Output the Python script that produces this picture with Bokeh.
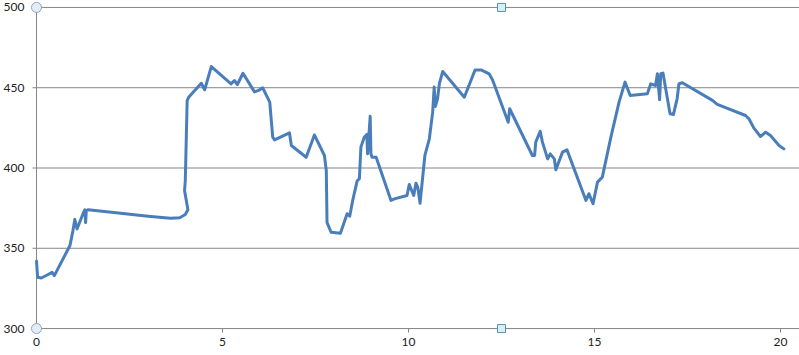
from bokeh.plotting import figure
from bokeh.models import Range1d, FixedTicker
from bokeh.embed import file_html
from bokeh.resources import INLINE

# ---- data ----
xs = [0.0, 0.03, 0.13, 0.3, 0.42, 0.48, 0.9, 0.98, 1.03, 1.09, 1.25, 1.3, 1.32, 1.34, 1.39,
      2.2, 3.0, 3.6, 3.85, 4.0, 4.07, 4.04, 3.98, 4.0, 4.05, 4.09, 4.43, 4.52, 4.7, 5.23,
      5.32, 5.4, 5.55, 5.86, 5.97, 6.08, 6.27, 6.35, 6.4, 6.8, 6.85, 7.25, 7.47, 7.74, 7.79,
      7.81, 7.92, 8.17, 8.35, 8.42, 8.5, 8.62, 8.68, 8.72, 8.81, 8.88, 8.9, 8.97, 8.99, 9.02,
      9.13, 9.53, 9.62, 9.96, 10.02, 10.14, 10.2, 10.25, 10.31, 10.44, 10.56, 10.65, 10.69,
      10.72, 10.78, 10.83, 10.92, 11.5, 11.79, 11.95, 12.17, 12.26, 12.68, 12.72, 13.33,
      13.39, 13.42, 13.54, 13.6, 13.74, 13.81, 13.92, 13.96, 14.14, 14.26, 14.77, 14.85,
      14.96, 15.08, 15.21, 15.44, 15.66, 15.82, 15.96, 16.42, 16.51, 16.64, 16.69, 16.75,
      16.78, 16.84, 17.03, 17.12, 17.22, 17.27, 17.36, 18.17, 18.3, 19.06, 19.15, 19.28,
      19.46, 19.6, 19.73, 19.96, 20.09]
ys = [342, 332, 331.5, 333.5, 335, 333, 351.7, 361, 368, 362, 371.5, 374, 366, 373.5, 374,
      372, 370, 368.7, 369, 371, 374, 378, 386, 392, 442, 444, 452.8, 448.7, 463.2, 452.4,
      454.5, 452, 459, 447.4, 448.3, 450, 441, 419.2, 417.5, 421.9, 414, 406.7, 420.6, 407.8, 398.4,
      366, 360, 359.4, 371.5, 370, 379.8, 392, 393.3, 413, 419.2, 420.9, 408.8, 432.2, 408.8, 406.7,
      406.7, 379.8, 380.8, 382.9, 389.7, 382.9, 390.5, 388, 378, 407.8, 418.2, 434.8, 450.4,
      438.3, 443.1, 452.5, 460.1, 444.1, 461.1, 461.1, 458.6, 454.8, 428.5, 436.9, 407.8,
      407.8, 416.1, 422.9, 416.1, 405.7, 408.8, 405.7, 398.9, 409.9, 411.3, 379.8, 384,
      377.7, 391.2, 394.3, 419.2, 441, 453.5, 445.2, 446.2, 452.4, 451.4, 458.7, 442.5,
      458.7, 459.1, 433.8, 433.3, 443.1, 452.5, 453.1, 442.1, 439.6, 432.7, 430.7, 425,
      419.6, 422.3, 420.2, 414, 411.9]

x_ticks = [0, 5, 10, 15, 20]
y_ticks = [300, 350, 400, 450, 500]
x_max = 20.51

handle_circle_x = [0, 0]
handle_circle_y = [500, 300]
handle_square_x = [12.5, 12.5]
handle_square_y = [500, 300]

# ---- figure ----
px_x = 770 / (x_max + 0.161)          # pixels per x unit
px_y = 333 / (503.7 - 296.3)          # pixels per y unit

p = figure(width=799, height=355, output_backend="svg", toolbar_location=None,
           x_range=Range1d(-0.161, x_max), y_range=Range1d(296.3, 503.7),
           min_border_left=29, min_border_right=0, min_border_top=1, min_border_bottom=21)
p.outline_line_color = None
p.xgrid.visible = False
p.ygrid.visible = False
p.background_fill_color = "white"
p.border_fill_color = "white"

font = "Lato"
for ax in (p.xaxis[0], p.yaxis[0]):
    ax.axis_line_color = None
    ax.major_tick_line_color = None
    ax.minor_tick_line_color = None
    ax.major_tick_in = 0
    ax.major_tick_out = 0
    ax.major_label_text_font = font
    ax.major_label_text_font_size = "12px"
    ax.major_label_text_color = "#222222"
p.xaxis.ticker = FixedTicker(ticks=x_ticks)
p.yaxis.ticker = FixedTicker(ticks=y_ticks)
p.yaxis.major_label_standoff = 6
p.xaxis.major_label_standoff = 3

grid_col = "#868686"
# gridlines (incl. x-axis line at 300)
p.segment(x0=[0] * len(y_ticks), x1=[x_max] * len(y_ticks), y0=y_ticks, y1=y_ticks,
          line_color=grid_col, line_width=1)
# y axis line
p.segment(x0=[0], x1=[0], y0=[y_ticks[0]], y1=[y_ticks[-1]], line_color=grid_col, line_width=1)
# y ticks
p.segment(x0=[-4 / px_x] * len(y_ticks), x1=[0] * len(y_ticks), y0=y_ticks, y1=y_ticks,
          line_color=grid_col, line_width=1)
# x ticks
p.segment(x0=x_ticks, x1=x_ticks, y0=[300] * len(x_ticks), y1=[300 - 4 / px_y] * len(x_ticks),
          line_color=grid_col, line_width=1)

# data line
p.line(xs, ys, line_color="#4a7ebb", line_width=3, line_join="round", line_cap="round")

# selection handles
p.scatter(handle_circle_x, handle_circle_y, marker="circle", size=10,
          fill_color="#e4edf6", line_color="#8ea4bc", line_width=1)
p.scatter(handle_square_x, handle_square_y, marker="square", size=8,
          fill_color="#d6eff4", line_color="#5b93a6", line_width=1)

open("out.html", "w").write(file_html(p, INLINE))
